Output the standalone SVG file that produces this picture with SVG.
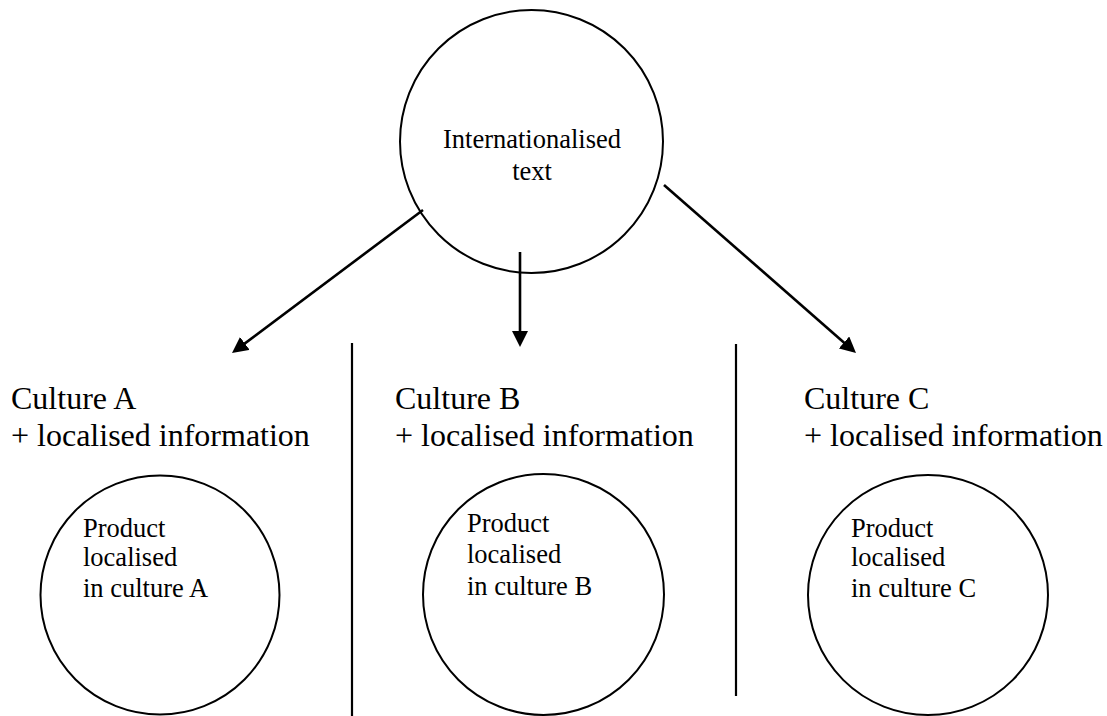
<svg xmlns="http://www.w3.org/2000/svg" width="1107" height="716" viewBox="0 0 1107 716">
<style>
.node{fill:#fff;stroke:#000;stroke-width:2}
.t{font-family:"Liberation Serif","Times New Roman",serif;fill:#000}
.top{font-size:26.5px}
.head{font-size:32px}
.prod{font-size:26.5px}
.conn{stroke:#000;stroke-width:2.6;fill:none}
.div{stroke:#000;stroke-width:2.2}
</style>
<defs>
<marker id="ah" markerUnits="userSpaceOnUse" viewBox="0 0 16 16" markerWidth="16" markerHeight="16" refX="12" refY="8" orient="auto">
<path d="M0,0 L16,8 L0,16 Z" fill="#000"/>
</marker>
</defs>
<rect width="1107" height="716" fill="#fff"/>
<g id="connectors">
<line class="conn" x1="423" y1="210" x2="235.2" y2="350.6" marker-end="url(#ah)"/>
<line class="conn" x1="520" y1="252" x2="520" y2="343" marker-end="url(#ah)"/>
<line class="conn" x1="664" y1="185" x2="853" y2="350.4" marker-end="url(#ah)"/>
</g>
<g id="dividers">
<line class="div" x1="352" y1="343" x2="352" y2="716"/>
<line class="div" x1="736" y1="344" x2="736" y2="696"/>
</g>
<g id="internationalised">
<circle class="node" cx="531.5" cy="141.5" r="131.5" style="fill:none"/>
<text class="t top" x="532" y="148" text-anchor="middle">Internationalised</text>
<text class="t top" x="532" y="180" text-anchor="middle">text</text>
</g>
<g id="cultureA">
<text class="t head" x="11" y="409">Culture A</text>
<text class="t head" x="11" y="446">+ localised information</text>
<circle class="node" cx="160" cy="595" r="119.5"/>
<text class="t prod" x="83" y="537">Product</text>
<text class="t prod" x="83" y="566">localised</text>
<text class="t prod" x="83" y="597">in culture A</text>
</g>
<g id="cultureB">
<text class="t head" x="395" y="409">Culture B</text>
<text class="t head" x="395" y="446">+ localised information</text>
<circle class="node" cx="543.5" cy="594.5" r="120.5"/>
<text class="t prod" x="467" y="532">Product</text>
<text class="t prod" x="467" y="563">localised</text>
<text class="t prod" x="467" y="595">in culture B</text>
</g>
<g id="cultureC">
<text class="t head" x="804" y="409">Culture C</text>
<text class="t head" x="804" y="446">+ localised information</text>
<circle class="node" cx="928" cy="595" r="120"/>
<text class="t prod" x="851" y="537">Product</text>
<text class="t prod" x="851" y="566">localised</text>
<text class="t prod" x="851" y="597">in culture C</text>
</g>
</svg>
